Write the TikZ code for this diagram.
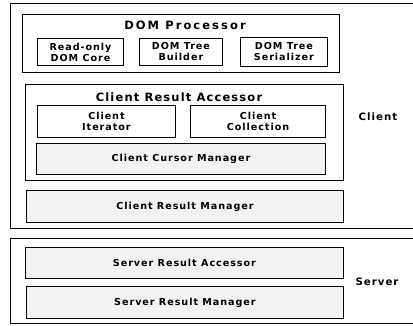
\documentclass[tikz,border=0pt]{standalone}
\usepackage{fontspec}
\setmainfont{DejaVu Sans}[LetterSpace=10]
% box given by its corners: name, x1, y1, x2, y2, style, text
\newcommand\partbox[7]{%
  \node[#6, anchor=north west, inner sep=0pt,
        minimum width={#4-#2}, minimum height={#5-#3}] (#1) at (#2,#3) {#7};}
\begin{document}
\begin{tikzpicture}[x=1pt,y=-1pt,
  frame/.style={draw, line width=0.7pt},
  part/.style={draw, line width=0.9pt, align=center,
               font=\bfseries\fontsize{9.6}{11}\selectfont},
  shaded/.style={part, fill=black!5},
  title/.style={font=\bfseries\fontsize{11.5}{13}\selectfont\addfontfeatures{LetterSpace=#1}},
  title/.default=18,
  side/.style={font=\bfseries\fontsize{10.2}{12}\selectfont}]
\useasboundingbox (0,0) rectangle (413,325);
\begin{scope}
\clip (0,0) rectangle (413,325);
% tiers (their right sides run off the page)
\partbox{client}{10}{3}{430}{228}{frame}{}
\partbox{server}{10}{238}{430}{323}{frame}{}
\end{scope}
% DOM processor
\partbox{dom}{22}{14}{339}{72}{frame}{}
\node[title] (domtitle) at (185,25) {DOM Processor};
\partbox{rodc}{37}{38}{123}{65}{part}{Read-only\\DOM Core}
\partbox{dtb}{139}{38}{222}{65}{part}{DOM Tree\\Builder}
\partbox{dts}{240}{37}{327}{66}{part}{DOM Tree\\Serializer}
% client result accessor
\partbox{cra}{25}{84}{343}{180}{frame}{}
\node[title=10] (cratitle) at (179,97) {Client Result Accessor};
\partbox{ci}{37}{105}{175}{137}{part}{Client\\Iterator}
\partbox{cc}{190}{105}{325}{137}{part}{Client\\Collection}
\partbox{ccm}{36}{143}{325}{174}{shaded}{Client Cursor Manager}
\partbox{crm}{26}{190}{343}{222}{shaded}{Client Result Manager}
% server side
\partbox{sra}{25}{247}{343}{278}{shaded}{Server Result Accessor}
\partbox{srm}{26}{286}{343}{318}{shaded}{Server Result Manager}
% tier labels
\node[side] (clientlabel) at (378,117) {Client};
\node[side] (serverlabel) at (377,282) {Server};
\end{tikzpicture}
\end{document}
